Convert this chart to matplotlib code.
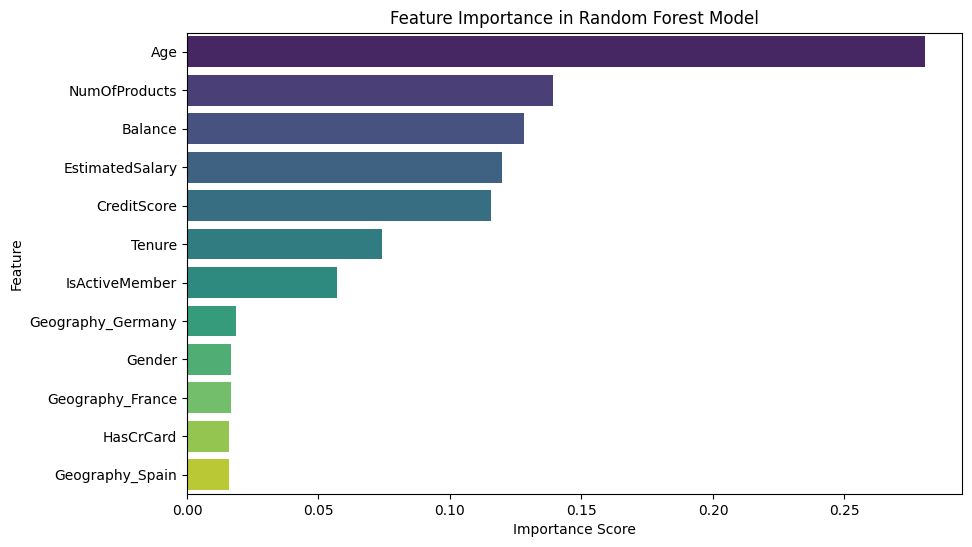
import matplotlib
matplotlib.use("Agg")
import matplotlib.pyplot as plt
import seaborn as sns
import pandas as pd

features = ["Age", "NumOfProducts", "Balance", "EstimatedSalary", "CreditScore", "Tenure",
            "IsActiveMember", "Geography_Germany", "Gender", "Geography_France", "HasCrCard",
            "Geography_Spain"]
importance = [0.2808, 0.1392, 0.1280, 0.1198, 0.1155, 0.0742, 0.0572, 0.0187, 0.0167, 0.0167,
              0.0160, 0.0160]

df = pd.DataFrame({"Feature": features, "Importance": importance})

fig = plt.figure(figsize=(9.72, 5.47), dpi=100)
ax = fig.add_axes([187.0/972, 1-494.0/547, (962.4-187.0)/972, (494.0-32.6)/547])
sns.barplot(data=df, x="Importance", y="Feature", hue="Feature", palette="viridis", legend=False, ax=ax)
ax.set_title("Feature Importance in Random Forest Model")
ax.set_xlabel("Importance Score")
ax.set_ylabel("Feature")
fig.savefig("out.png", dpi=100)
